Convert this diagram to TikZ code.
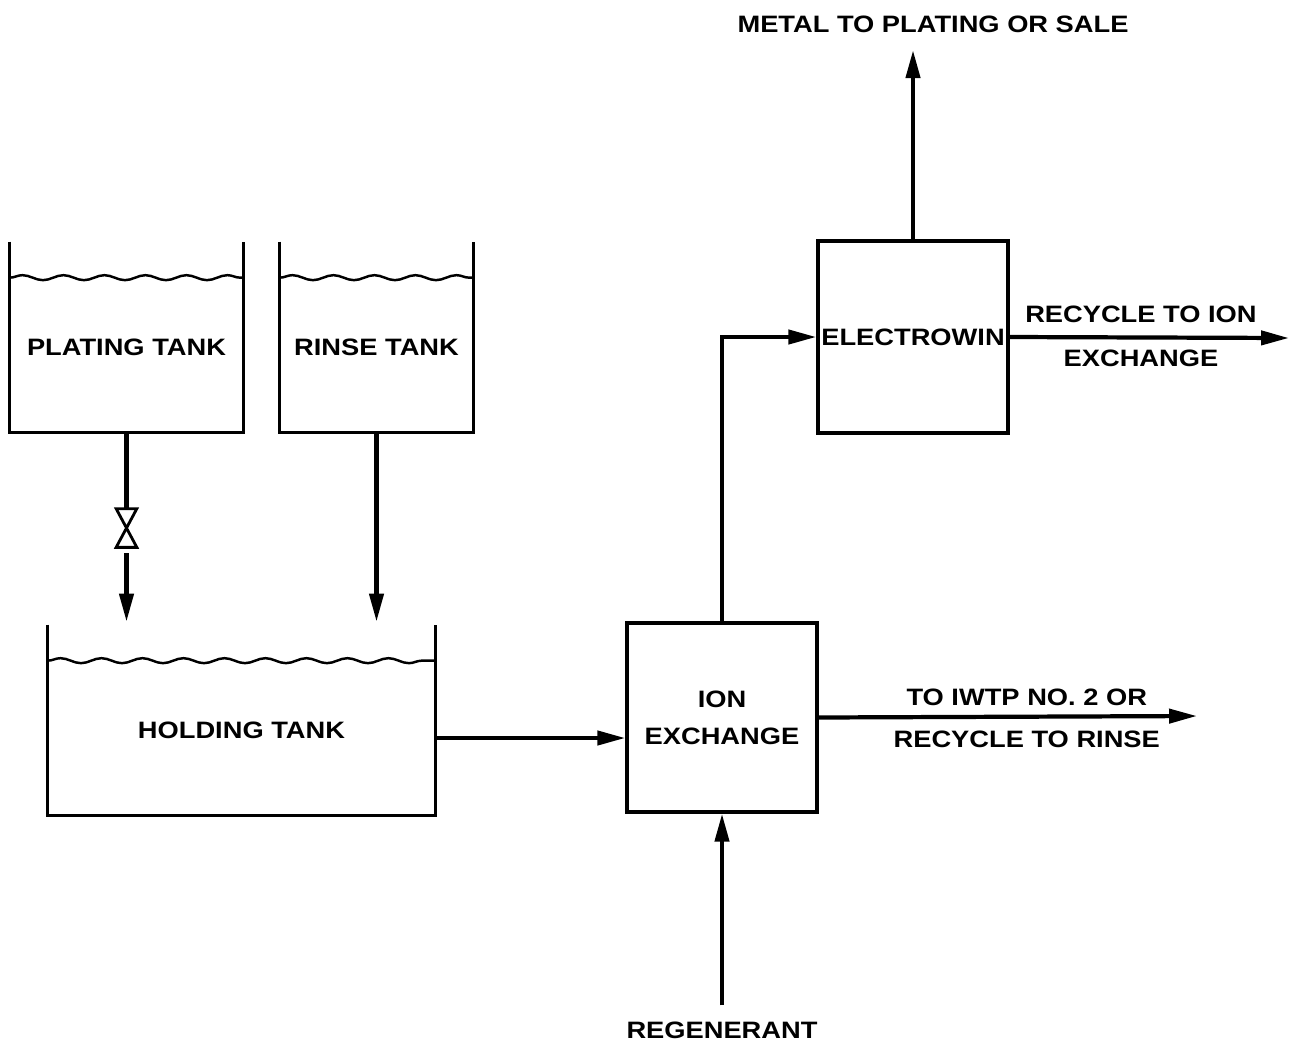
\documentclass[tikz,border=0pt]{standalone}
\usepackage{fontspec}
\setmainfont{Liberation Sans}[FakeStretch=1.15]
\usetikzlibrary{
    arrows.meta,
    positioning,
    calc,
    decorations.pathmorphing
}

\tikzset{
    wall/.style={line width=1.9pt},
    water/.style={line width=1.4pt, decorate,
        decoration={snake, segment length=0.82cm, amplitude=0.05cm}},
    tank/.style={minimum height=3.8cm, inner sep=0pt, text height=0.74cm, text depth=0pt},
    unit/.style={draw, line width=1.9pt, inner sep=0pt, minimum width=3.8cm,
        minimum height=3.8cm, align=center},
    pipe/.style={line width=2.4pt},
    flow/.style={line width=2.4pt, -{Triangle[length=5.6mm,width=2.8mm]}},
    tag/.style={inner sep=0pt}
}

\begin{document}
\begin{tikzpicture}[x=0.02cm, y=-0.02cm, font=\bfseries\fontsize{13.5}{21}\selectfont]
    \useasboundingbox (0,0) rectangle (1290,1045);

    % tanks (open top, with liquid level)
    \node[tank, minimum width=4.66cm] (plating) at (126.5,337) {PLATING TANK};
    \node[tank, minimum width=3.86cm] (rinse) at (376.5,337) {RINSE TANK};
    \node[tank, minimum width=7.74cm] (holding) at (241.5,720) {HOLDING TANK};
    \foreach \t in {plating,rinse,holding} {
        \draw[wall] (\t.north west) -- (\t.south west) -- (\t.south east) -- (\t.north east);
        \draw[water] ($(\t.north west)+(0,36)$) -- ($(\t.north east)+(0,36)$);
    }

    % treatment units
    \node[unit, minimum height=3.78cm] (ionx) at (722,717.5) {ION\\EXCHANGE};
    \node[unit, minimum height=3.84cm] (elec) at (913,337) {ELECTROWIN};

    % valve on the plating line
    \node[minimum width=0.4cm, minimum height=0.76cm, inner sep=0pt] (valve) at (126.5,528) {};
    \draw[line width=1.6pt] (valve.north west) -- (valve.south east) -- (valve.south west)
        -- (valve.north east) -- cycle;

    % outside labels
    \node (metal) at (933,24) {METAL TO PLATING OR SALE};
    \node (regen) at (722,1030) {REGENERANT};
    \coordinate (recyc) at (1289,338);
    \coordinate (iwtp) at (1197,716);
    \coordinate (hout) at ($(holding.east)+(0,18)$);

    % flows
    \draw[pipe] (plating.south) -- (valve.north);
    \draw[flow, shorten >=0.06cm] ([yshift=-0.12cm]valve.south) -- (valve.south |- holding.north);
    \draw[flow, shorten >=0.06cm] (rinse.south) -- (rinse.south |- holding.north);
    \draw[flow] (hout) -- (hout -| ionx.west);
    \draw[flow] (ionx.north) |- (elec.west);
    \draw[flow, shorten >=0.23cm] (elec.north) -- (elec.north |- metal.south);
    \draw[flow] (elec.east) -- (recyc)
        node[tag, pos=0.47, above=7pt] {RECYCLE TO ION}
        node[tag, pos=0.47, below=6pt] {EXCHANGE};
    \draw[flow] (ionx.east) -- (iwtp)
        node[tag, pos=0.55, above=5pt] {TO IWTP NO. 2 OR}
        node[tag, pos=0.55, below=7pt] {RECYCLE TO RINSE};
    \draw[flow, shorten <=0.2cm] (regen.north) -- (ionx.south);
\end{tikzpicture}
\end{document}
